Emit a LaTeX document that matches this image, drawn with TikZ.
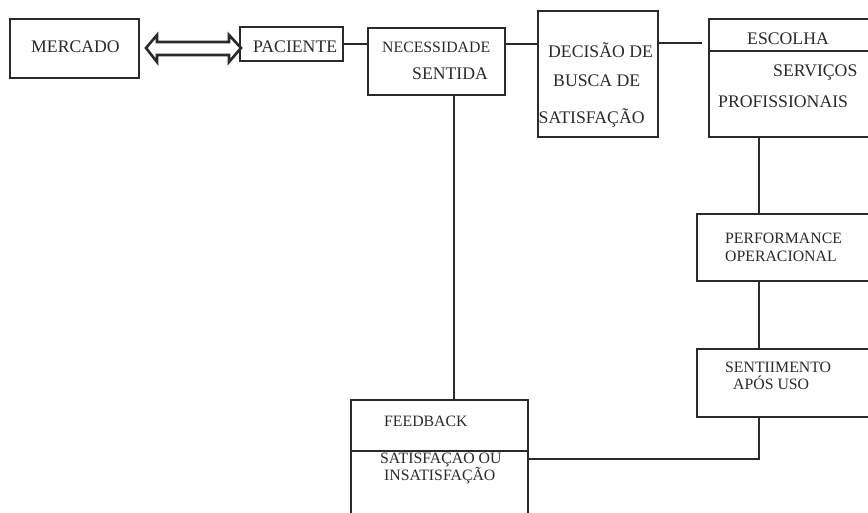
\documentclass[tikz,border=0pt]{standalone}
\usepackage{fontspec}
\setmainfont{Liberation Serif}
\usetikzlibrary{calc}
\definecolor{ink}{HTML}{2A2A2A}
\begin{document}
\begin{tikzpicture}[x=1pt,y=-1pt,
  box/.style={draw=ink,line width=1.4pt,rectangle,inner sep=0pt,outer sep=0pt,anchor=north west},
  conn/.style={draw=ink,line width=1.3pt},
  big/.style={anchor=base west,inner sep=0pt,text=ink,font=\fontsize{17.7}{20}\selectfont},
  small/.style={anchor=base west,inner sep=0pt,text=ink,font=\fontsize{15.8}{18}\selectfont}]
\useasboundingbox (0,0) rectangle (868,513);
\clip (0,0) rectangle (868,513);
\fill[white] (0,0) rectangle (868,513);
% boxes
\node[box,minimum width=129pt,minimum height=59pt] (mer) at (10,19) {};
\node[box,minimum width=103pt,minimum height=34pt] (pac) at (240,27) {};
\node[box,minimum width=137pt,minimum height=67pt] (nec) at (368,28) {};
\node[box,minimum width=120pt,minimum height=126pt] (dec) at (538,11) {};
\node[box,minimum width=180pt,minimum height=118pt] (esc) at (709,19) {};
\node[box,minimum width=190pt,minimum height=67pt] (perf) at (697,214) {};
\node[box,minimum width=190pt,minimum height=68pt] (sent) at (697,349) {};
\node[box,minimum width=177pt,minimum height=140pt] (feed) at (351,400) {};
% dividers
\draw[conn] ([yshift=-32pt]esc.north west) -- ([yshift=-32pt]esc.north east);
\draw[conn] ([yshift=-51pt]feed.north west) -- ([yshift=-51pt]feed.north east);
% double arrow
\draw[draw=ink,line width=2.6pt,line join=miter] (146,48) -- (157,35) -- (157,42) -- (229,42) -- (229,35)
  -- (241,48) -- (229,62) -- (229,55) -- (157,55) -- (157,62) -- cycle;
% connectors
\draw[conn] (pac.east) -- (pac.east -| nec.west);
\draw[conn] (nec.east |- pac.east) -- (dec.west |- pac.east);
\coordinate (dend) at (702,43);
\draw[conn] (dec.east |- dend) -- (dend);
\coordinate (na) at ($(nec.south west)+(86,0)$);
\draw[conn] (na) -- (na |- feed.north);
\coordinate (ea) at ($(esc.south west)+(50,0)$);
\draw[conn] (ea) -- (ea |- perf.north);
\draw[conn] (ea |- perf.south) -- (ea |- sent.north);
\coordinate (fy) at ($(feed.north east)+(0,59)$);
\draw[conn] (ea |- sent.south) -- (ea |- fy) -- (fy);
% texts
\node[big] (t1) at (31,53) {MERCADO};
\node[big] (t2) at (253,53) {PACIENTE};
\node[small] (t3) at (382,53) {NECESSIDADE};
\node[big] (t4) at (412,80) {SENTIDA};
\node[big] (t5) at (548,58) {DECISÃO DE};
\node[big] (t6) at (553,87) {BUSCA DE};
\node[big] (t7) at (538.5,124) {SATISFAÇÃO};
\node[big] (t8) at (747,45) {ESCOLHA};
\node[big] (t9) at (773,77) {SERVIÇOS};
\node[big] (t10) at (718,108) {PROFISSIONAIS};
\node[small] (t11) at (725,244) {PERFORMANCE};
\node[small] (t12) at (725,262) {OPERACIONAL};
\node[small] (t13) at (725,372) {SENTIIMENTO};
\node[small] (t14) at (733,389) {APÓS USO};
\node[small] (t15) at (384,426) {FEEDBACK};
\node[small] (t16) at (380,463) {SATISFAÇÃO OU};
\node[small] (t17) at (384,480) {INSATISFAÇÃO};
\end{tikzpicture}
\end{document}
